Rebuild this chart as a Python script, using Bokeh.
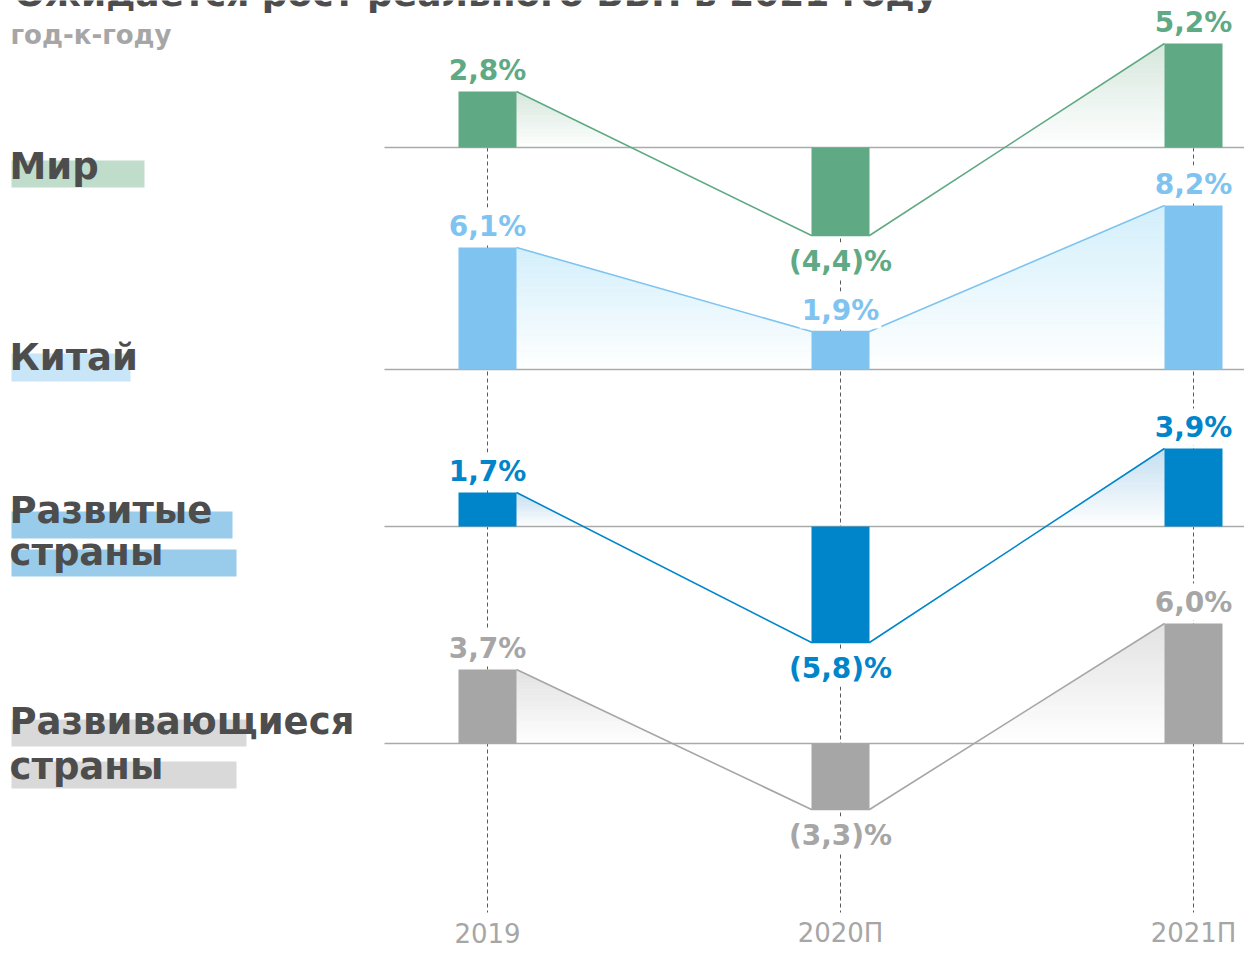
from bokeh.plotting import figure
from bokeh.models import Range1d, ColumnDataSource
from bokeh.embed import file_html
from bokeh.resources import INLINE
from bokeh.core.properties import value

# ---------------- data ----------------
years = ["2019", "2020П", "2021П"]
regions = ["Мир", "Китай", "Развитые страны", "Развивающиеся страны"]
mir = [2.8, -4.4, 5.2]
china = [6.1, 1.9, 8.2]
developed = [1.7, -5.8, 3.9]
emerging = [3.7, -3.3, 6.0]
title_text = "Ожидается рост реального ВВП в 2021 году"
subtitle_text = "год-к-году"

# ---------------- layout / style ----------------
W, H = 1244, 948
X0, PX = 487.0, 353.0     # canvas x of first column, px between columns
PY = 20.0                 # px per percentage point
BAR_W = 58.0 / PX
FONT = value("DejaVu Sans")
DARK = "#4d4d4d"
GREY = "#a6a6a6"
SHIFT = 0.30              # baseline compensation (em)


def dx(cx):
    return (cx - X0) / PX


def dy(cy):
    return -cy / PY


def tb(cy, fs):
    """data y for a text whose alphabetic baseline should sit at canvas cy"""
    return dy(cy - SHIFT * fs)


series_values = [mir, china, developed, emerging]
series_color = ["#5faa84", "#7fc4f0", "#0085ca", "#a6a6a6"]
grad_top = [(214, 231, 221), (211, 239, 251), (196, 223, 240), (226, 226, 226)]
base_cy = [147, 369, 526, 743]                       # canvas y of panel baselines
label_baselines = [[177], [368], [521, 563], [732, 777]]
label_boxes = [[(11, 144, 160, 187)],
               [(11, 130, 353, 381)],
               [(11, 232, 511, 538), (11, 236, 549, 576)],
               [(11, 246, 719, 746), (11, 236, 761, 788)]]
label_box_color = ["#c0dccb", "#c8e6f8", "#99cceb", "#d9d9d9"]
VAL_FS = 28
LAB_FS = 37


def fmt(v):
    s = f"{abs(v):.1f}".replace(".", ",")
    return f"{s}%" if v >= 0 else f"({s})%"


def mix(c, f):
    """colour c faded toward white; f=1 -> c, f=0 -> white"""
    r, g, b = (round(255 - (255 - ch) * f) for ch in c)
    return f"#{r:02x}{g:02x}{b:02x}"


p = figure(width=W, height=H,
           x_range=Range1d(dx(0), dx(W)), y_range=Range1d(dy(H), dy(0)),
           output_backend="svg", toolbar_location=None,
           x_axis_location=None, y_axis_location=None, min_border=0)
p.outline_line_color = None
p.background_fill_color = "white"
p.border_fill_color = "white"
p.xgrid.visible = False
p.ygrid.visible = False

xs_cols = list(range(len(years)))

# dashed verticals
p.segment(x0=xs_cols, x1=xs_cols, y0=[dy(147)] * 3, y1=[dy(912)] * 3,
          line_color="#595959", line_width=1, line_dash="4 3")

N = 40
hw = BAR_W / 2
for si, vals in enumerate(series_values):
    base = dy(base_cy[si])
    # gradient areas under connecting lines (positive part only), solid bands
    pxs, pys, pcs = [], [], []
    for i in range(len(vals) - 1):
        xa, xb = i + hw, i + 1 - hw
        ya, yb = vals[i], vals[i + 1]
        top = max(ya, yb, 0)
        if top <= 0:
            continue

        def L(x, xa=xa, xb=xb, ya=ya, yb=yb):
            return ya + (yb - ya) * (x - xa) / (xb - xa)

        def X(t, xa=xa, xb=xb, ya=ya, yb=yb):
            return xa + (t - ya) / (yb - ya) * (xb - xa)

        for k in range(N):
            t0 = top * k / N
            t1 = top * (k + 1) / N
            if max(ya, yb) <= t0:
                continue
            s0 = xa if ya >= t0 else X(t0)
            s1 = xb if yb >= t0 else X(t0)
            vx = [s0, s0]
            vy = [t0, min(L(s0), t1)]
            if ya != yb:
                xc = X(t1)
                if s0 < xc < s1:
                    vx.append(xc)
                    vy.append(t1)
            vx += [s1, s1]
            vy += [min(L(s1), t1), t0]
            pxs.append(vx)
            pys.append([base + y for y in vy])
            pcs.append(mix(grad_top[si], (k + 0.5) / N))
    if pxs:
        src = ColumnDataSource(dict(xs=pxs, ys=pys, c=pcs))
        p.patches(xs="xs", ys="ys", source=src, fill_color="c",
                  line_color="c", line_width=0.8)

    # panel baseline
    p.segment(x0=[dx(384)], x1=[dx(W + 10)], y0=[base], y1=[base],
              line_color="#aaaaaa", line_width=1.5)

    # connecting line
    lx, ly = [], []
    for i, v in enumerate(vals):
        lx += [i - hw, i + hw]
        ly += [base + v, base + v]
    p.line(lx[1:-1], ly[1:-1], line_color=series_color[si], line_width=1.6)

    # bars
    p.vbar(x=xs_cols, width=BAR_W, bottom=base, top=[base + v for v in vals],
           fill_color=series_color[si], line_color=None)

    # value labels
    ty = []
    for v in vals:
        end_cy = base_cy[si] - v * PY
        ty.append(tb(end_cy - 13 if v >= 0 else end_cy + 34, VAL_FS))
    src = ColumnDataSource(dict(x=xs_cols, y=ty, t=[fmt(v) for v in vals]))
    p.text(x="x", y="y", text="t", source=src, text_align="center",
           text_baseline="alphabetic", text_font=FONT, text_font_style="bold",
           text_font_size=f"{VAL_FS}px", text_color=series_color[si],
           background_fill_color="white", padding=2)

    # region label with highlight boxes
    for (x0, x1, y0, y1) in label_boxes[si]:
        p.quad(left=[dx(x0)], right=[dx(x1)], top=[dy(y0)], bottom=[dy(y1)],
               fill_color=label_box_color[si], line_color=None)
    words = regions[si].split(" ")
    p.text(x=[dx(9)] * len(words), y=[tb(b, LAB_FS) for b in label_baselines[si]],
           text=words, text_align="left", text_baseline="alphabetic",
           text_font=FONT, text_font_style="bold", text_font_size=f"{LAB_FS}px",
           text_color=DARK)

# x tick labels
p.text(x=xs_cols, y=[tb(940, 26)] * 3, text=years, text_align="center",
       text_baseline="alphabetic", text_font=FONT, text_font_size="26px",
       text_color=GREY)

# title (cut at top as in reference) and subtitle
p.text(x=[dx(14)], y=[tb(4, 36)], text=[title_text], text_align="left",
       text_baseline="alphabetic", text_font=FONT, text_font_style="bold",
       text_font_size="36px", text_color=DARK)
p.text(x=[dx(10)], y=[tb(42, 26)], text=[subtitle_text], text_align="left",
       text_baseline="alphabetic", text_font=FONT, text_font_style="bold",
       text_font_size="26px", text_color=GREY)

open("out.html", "w").write(file_html(p, INLINE))
